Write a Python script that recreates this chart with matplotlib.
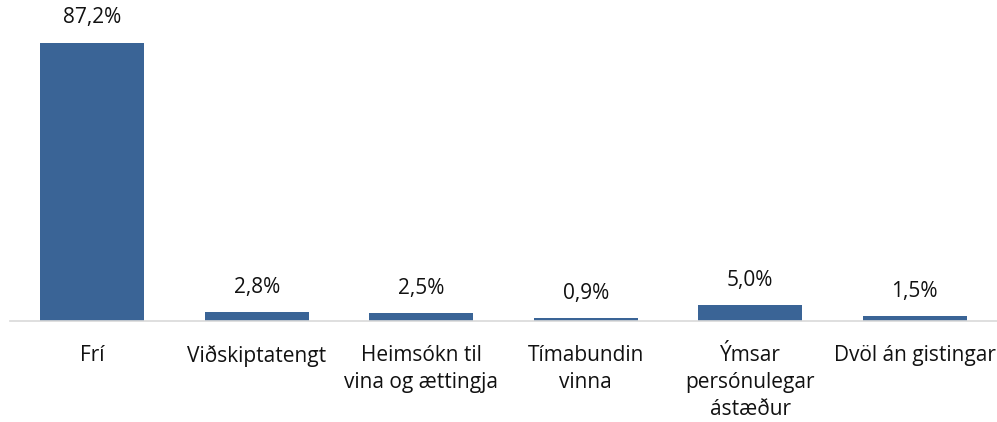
import matplotlib.pyplot as plt

categories = ["Frí", "Viðskiptatengt", "Heimsókn til\nvina og ættingja",
              "Tímabundin\nvinna", "Ýmsar\npersónulegar\nástæður", "Dvöl án gistingar"]
values = [87.2, 2.8, 2.5, 0.9, 5.0, 1.5]
labels = ["87,2%", "2,8%", "2,5%", "0,9%", "5,0%", "1,5%"]

plt.rcParams['font.family'] = ['Open Sans', 'DejaVu Sans']

fig = plt.figure(figsize=(9.97, 4.22), dpi=100)
ax = fig.add_axes([10 / 997, (422 - 321) / 422, 987 / 997, 311 / 422])

x = range(len(categories))
bars = ax.bar(x, values, width=0.63, color="#3A6496")

for b, lab in zip(bars, labels):
    ax.annotate(lab, (b.get_x() + b.get_width() / 2, b.get_height()),
                xytext=(0, 18), textcoords="offset points",
                ha="center", va="center", fontsize=15, color="#111111")

ax.set_xlim(-0.5, len(categories) - 0.5)
ax.set_ylim(0, 97.5)
ax.set_xticks(list(x))
ax.set_xticklabels(categories, fontsize=15, color="#111111", linespacing=1.4)
ax.tick_params(axis="x", length=0, pad=17)
ax.set_yticks([])
for s in ["top", "right", "left"]:
    ax.spines[s].set_visible(False)
ax.spines["bottom"].set_color("#D9D9D9")
ax.spines["bottom"].set_linewidth(1.2)

fig.savefig("out.png", dpi=100)
